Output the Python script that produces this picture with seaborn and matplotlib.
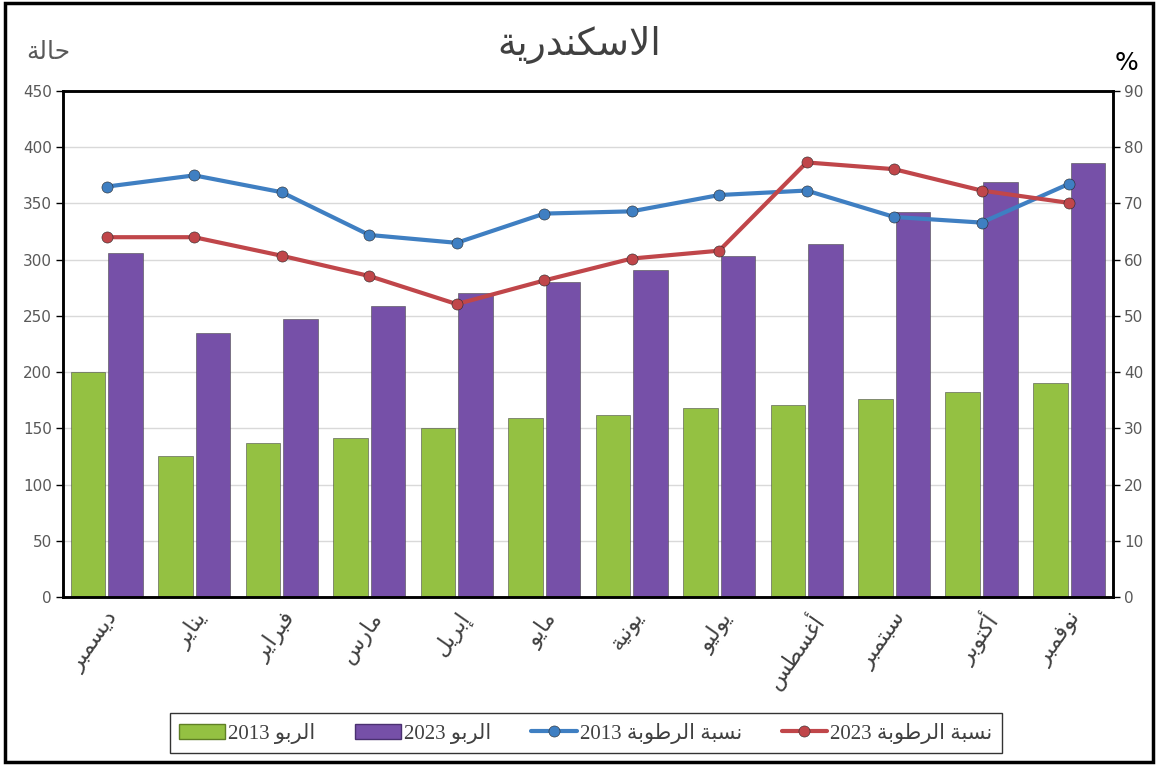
import numpy as np
import pandas as pd
import matplotlib
matplotlib.use("Agg")
import matplotlib.pyplot as plt
from matplotlib.patches import Patch, Rectangle
from matplotlib.lines import Line2D
import seaborn as sns

# ---- data ----
months = ["ديسمبر", "يناير", "فبراير", "مارس", "إبريل", "مايو",
          "يونية", "يوليو", "أغسطس", "سبتمبر", "أكتوبر", "نوفمبر"]
asthma_2013 = [200, 125, 137, 141, 150, 159, 162, 168, 171, 176, 182, 190]
asthma_2023 = [306, 235, 247, 259, 270, 280, 291, 303, 314, 342, 369, 386]
humidity_2013 = [73.0, 75.0, 72.0, 64.4, 63.0, 68.2, 68.6, 71.5, 72.3, 67.6, 66.6, 73.5]
humidity_2023 = [64.0, 64.0, 60.7, 57.1, 52.1, 56.3, 60.2, 61.6, 77.3, 76.1, 72.3, 70.1]

title = "الاسكندرية"
left_label = "حالة"
right_label = "%"
bar_names = ["الربو 2013", "الربو 2023"]
line_names = ["نسبة الرطوبة 2013", "نسبة الرطوبة 2023"]

# ---- tiny arabic shaper (matplotlib does no shaping / bidi) ----
FORMS = {
    'ا': (0xFE8D, False), 'أ': (0xFE83, False), 'إ': (0xFE87, False),
    'ب': (0xFE8F, True), 'ة': (0xFE93, False), 'ت': (0xFE95, True),
    'ح': (0xFEA1, True), 'د': (0xFEA9, False), 'ر': (0xFEAD, False),
    'س': (0xFEB1, True), 'ط': (0xFEC1, True), 'غ': (0xFECD, True),
    'ف': (0xFED1, True), 'ك': (0xFED9, True), 'ل': (0xFEDD, True),
    'م': (0xFEE1, True), 'ن': (0xFEE5, True), 'و': (0xFEED, False),
    'ي': (0xFEF1, True),
}
LAM_ALEF = {'ا': 0xFEFB, 'أ': 0xFEF7, 'إ': 0xFEF9}


def shape_word(word):
    out = []
    i = 0
    while i < len(word):
        ch = word[i]
        if ch not in FORMS:
            out.append(ch)
            i += 1
            continue
        prev = word[i - 1] if i > 0 else ''
        joins_prev = prev in FORMS and FORMS[prev][1]
        if ch == 'ل' and i + 1 < len(word) and word[i + 1] in LAM_ALEF:
            out.append(chr(LAM_ALEF[word[i + 1]] + (1 if joins_prev else 0)))
            i += 2
            continue
        base, dual = FORMS[ch]
        nxt = word[i + 1] if i + 1 < len(word) else ''
        joins_next = dual and nxt in FORMS
        if joins_prev and joins_next:
            off = 3
        elif joins_next:
            off = 2
        elif joins_prev:
            off = 1
        else:
            off = 0
        out.append(chr(base + off))
        i += 1
    return ''.join(out)


def ar(text):
    words = text.split(' ')
    vis = []
    for w in reversed(words):
        if any(c in FORMS for c in w):
            vis.append(shape_word(w)[::-1])
        else:
            vis.append(w)
    return ' '.join(vis)


# ---- long tables for seaborn ----
bars_df = pd.DataFrame({
    "month": months * 2,
    "cases": asthma_2013 + asthma_2023,
    "series": [bar_names[0]] * 12 + [bar_names[1]] * 12,
})
hum_df = pd.DataFrame({
    "month": months * 2,
    "humidity": humidity_2013 + humidity_2023,
    "series": [line_names[0]] * 12 + [line_names[1]] * 12,
})

green, purple = "#94c142", "#7650a8"
blue, red = "#3f7fc2", "#c0464a"

sns.set_style("white")
plt.rcParams['font.family'] = ['DejaVu Sans']

fig = plt.figure(figsize=(11.58, 7.65), dpi=100)
ax = fig.add_axes([0.0544, 0.2196, 0.9066, 0.6614])

sns.barplot(data=bars_df, x="month", y="cases", hue="series", order=months,
            palette=[green, purple], saturation=1, width=0.86, gap=0.08,
            errorbar=None, edgecolor="#4a4a4a", linewidth=0.4, ax=ax, legend=False)

ax.set_ylim(0, 450)
ax.set_yticks(np.arange(0, 451, 50))
ax.set_xlim(-0.5, 11.5)
ax.yaxis.grid(True, color="#d9d9d9", linewidth=1)
ax.set_axisbelow(True)
ax.set_xlabel("")
ax.set_ylabel("")

ax2 = ax.twinx()
sns.pointplot(data=hum_df, x="month", y="humidity", hue="series", order=months,
              palette=[blue, red], markers="o", errorbar=None, ax=ax2,
              linewidth=3, markersize=8, markeredgecolor="#2a2a2a",
              markeredgewidth=0.4, legend=False)
ax2.set_ylim(0, 90)
ax2.set_yticks(np.arange(0, 91, 10))
ax2.set_xlim(-0.5, 11.5)
ax2.set_ylabel("")
ax2.set_xlabel("")

for a in (ax, ax2):
    for s in a.spines.values():
        s.set_visible(True)
        s.set_color("black")
        s.set_linewidth(1.8)
ax.tick_params(axis="y", which="both", left=True, length=5, width=1, color="black",
               labelcolor="#595959", labelsize=11, pad=3)
ax2.tick_params(axis="y", which="both", right=True, length=5, width=1, color="black",
                labelcolor="#595959", labelsize=11, pad=3)

ax.set_xticks(range(len(months)))
ax.set_xticklabels([ar(m) for m in months], rotation=55, ha="right",
                   rotation_mode="anchor", fontsize=16, color="#404040")
ax.tick_params(axis="x", length=0, pad=8)

fig.text(0.5, 1 - 45 / 765, ar(title), ha="center", va="center",
         fontsize=27, color="#404040")
fig.text(48 / 1158, 1 - 52 / 765, ar(left_label), ha="center", va="center",
         fontsize=18, color="#595959")
fig.text(1127 / 1158, 1 - 63 / 765, right_label, ha="center", va="center",
         fontsize=18, color="black")

handles = [
    Patch(facecolor=green, edgecolor="#5f7f25"),
    Patch(facecolor=purple, edgecolor="#4a3170"),
    Line2D([], [], color=blue, lw=3, marker="o", markersize=8, markeredgecolor="#2a2a2a", markeredgewidth=0.4),
    Line2D([], [], color=red, lw=3, marker="o", markersize=8, markeredgecolor="#2a2a2a", markeredgewidth=0.4),
]
labels = [ar(n) for n in bar_names + line_names]
leg = fig.legend(handles, labels, loc="center", bbox_to_anchor=(0.506, 1 - 733 / 765),
                 ncol=4, frameon=True, fancybox=False, edgecolor="black",
                 prop={"family": ["Liberation Serif", "DejaVu Sans"], "size": 15},
                 handlelength=2.2, handletextpad=0.15, columnspacing=1.9,
                 borderpad=0.45)
leg.get_frame().set_linewidth(1)
for t in leg.get_texts():
    t.set_color("#404040")

fig.patches.append(Rectangle((0.004, 0.004), 0.992, 0.992, transform=fig.transFigure,
                             fill=False, edgecolor="black", linewidth=2.5))

fig.savefig("out.png", dpi=100)
